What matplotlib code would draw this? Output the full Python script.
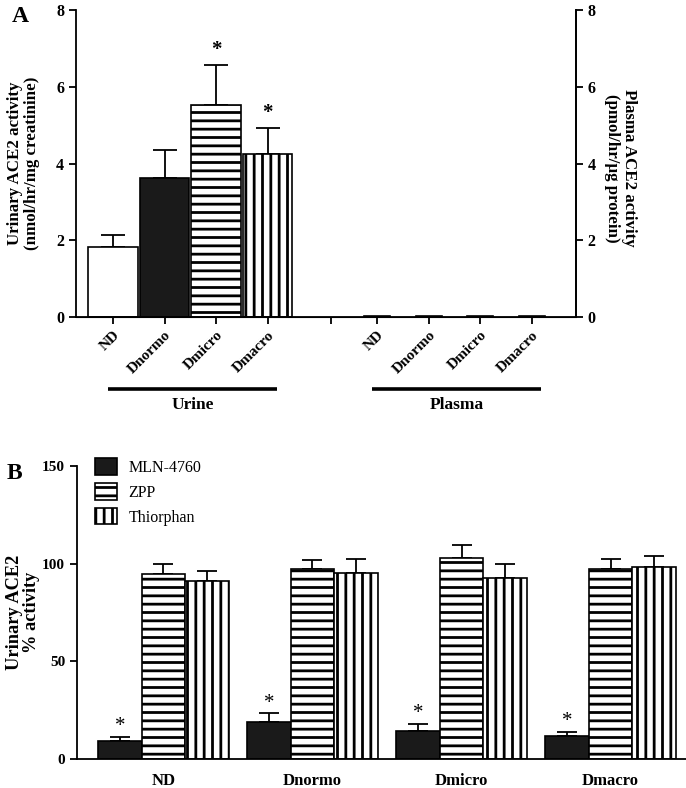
import numpy as np
import matplotlib
matplotlib.use("Agg")
import matplotlib.pyplot as plt

plt.rcParams['font.family'] = ['Liberation Serif', 'DejaVu Serif']
plt.rcParams['hatch.linewidth'] = 2.0
plt.rcParams['hatch.color'] = 'black'

# panel A data
groups = ["ND", "Dnormo", "Dmicro", "Dmacro"]
urine_mean = [1.82, 3.62, 5.52, 4.25]
urine_sem = [0.31, 0.72, 1.05, 0.68]
plasma_mean = [0.03, 0.03, 0.02, 0.03]
urine_star = [False, False, True, True]

# panel B data
inhibitors = ["MLN-4760", "ZPP", "Thiorphan"]
mln_mean = [9.3, 18.7, 14.3, 11.9]
mln_sem = [2.1, 4.6, 3.6, 1.7]
zpp_mean = [94.5, 97.3, 102.7, 97.1]
zpp_sem = [5.3, 4.6, 7.0, 5.3]
thio_mean = [91.3, 95.2, 92.9, 98.5]
thio_sem = [4.7, 7.2, 6.9, 5.2]

styles = [dict(color='white', hatch=None),
          dict(color='#1a1a1a', hatch=None),
          dict(color='white', hatch='--'),
          dict(color='white', hatch='||')]

fig = plt.figure(figsize=(6.86, 7.88), dpi=100)

# ---------- panel A ----------
axA = fig.add_axes([0.1108, 0.5977, 0.7289, 0.3896])
urine_x = np.arange(4)
gap_x = 4.23
plasma_x = 5.13 + np.arange(4)

axA.errorbar(urine_x, urine_mean, yerr=[np.zeros(4), urine_sem], fmt='none',
             ecolor='black', elinewidth=1.3, capsize=8.5, capthick=1.3, zorder=1)
for i in range(4):
    axA.bar(urine_x[i], urine_mean[i], width=0.96, facecolor=styles[i]['color'],
            hatch=styles[i]['hatch'], edgecolor='black', linewidth=1.2, zorder=2)
    axA.bar(plasma_x[i], plasma_mean[i], width=0.5, facecolor=styles[i]['color'],
            hatch=styles[i]['hatch'], edgecolor='black', linewidth=1.2, zorder=2)
    if urine_star[i]:
        axA.text(urine_x[i], urine_mean[i] + urine_sem[i] + 0.12, "*", ha='center',
                 va='bottom', fontsize=15, fontweight='bold')

axA.set_xlim(-0.72, 8.99)
axA.set_ylim(0, 8)
axA.set_yticks([0, 2, 4, 6, 8])
axA.set_xticks(list(urine_x) + [gap_x] + list(plasma_x))
axA.set_xticklabels(groups + [""] + groups, rotation=45, ha='right',
                    rotation_mode='anchor', fontweight='bold', fontsize=11)
axA.spines['top'].set_visible(False)
for s in ['left', 'bottom', 'right']:
    axA.spines[s].set_linewidth(1.3)
axA.tick_params(axis='both', width=1.3, length=5)
axA.tick_params(axis='y', labelsize=11.5)
for lab in axA.get_yticklabels():
    lab.set_fontweight('bold')
axA.set_ylabel("Urinary ACE2 activity\n(nmol/hr/mg creatinine)", fontsize=12.2,
               fontweight='bold', linespacing=1.1)
axA.yaxis.set_label_coords(-0.072, 0.5)

axA2 = axA.twinx()
axA2.set_ylim(0, 8)
axA2.set_yticks([0, 2, 4, 6, 8])
axA2.spines['top'].set_visible(False)
axA2.spines['left'].set_visible(False)
axA2.spines['right'].set_linewidth(1.3)
axA2.tick_params(axis='y', width=1.3, length=5, labelsize=11.5)
for lab in axA2.get_yticklabels():
    lab.set_fontweight('bold')
axA2.set_ylabel("Plasma ACE2 activity\n(pmol/hr/\u00b5g protein)", fontsize=12.2,
                fontweight='bold', rotation=270, linespacing=1.1)
axA2.yaxis.set_label_coords(1.122, 0.485)

tr = axA.get_xaxis_transform()
for xs, name in [(urine_x, "Urine"), (plasma_x, "Plasma")]:
    x0, x1 = xs[0] - 0.1, xs[-1] + 0.18
    axA.plot([x0, x1], [-0.235, -0.235], color='black', lw=2.6, transform=tr,
             clip_on=False, solid_capstyle='butt')
    axA.text((x0 + x1) / 2, -0.262, name, transform=tr, ha='center', va='top',
             fontsize=12.5, fontweight='bold')

fig.text(20 / 686, 1 - 17 / 788, "A", fontsize=17, fontweight='bold', ha='center', va='center')

# ---------- panel B ----------
axB = fig.add_axes([0.1122, 0.0368, 0.888, 0.3718])
gx = np.arange(4)
w = 0.292
series = [(mln_mean, mln_sem, styles[1]), (zpp_mean, zpp_sem, styles[2]),
          (thio_mean, thio_sem, styles[3])]
for k, (m, e, st) in enumerate(series):
    xs = gx + (k - 1) * w
    axB.errorbar(xs, m, yerr=[np.zeros(4), e], fmt='none', ecolor='black',
                 elinewidth=1.3, capsize=7.5, capthick=1.3, zorder=1)
    axB.bar(xs, m, width=w, facecolor=st['color'], hatch=st['hatch'],
            edgecolor='black', linewidth=1.2, zorder=2, label=inhibitors[k])
    if k == 0:
        for xi, mi, ei in zip(xs, m, e):
            axB.text(xi, mi + ei + 0.5, "*", ha='center', va='bottom', fontsize=15)

axB.set_xlim(-0.58, 3.507)
axB.set_ylim(0, 150)
axB.set_yticks([0, 50, 100, 150])
axB.set_xticks(gx)
axB.set_xticklabels(groups, fontweight='bold', fontsize=12)
axB.tick_params(axis='x', length=0, pad=10)
axB.tick_params(axis='y', width=1.3, length=5, labelsize=11)
for lab in axB.get_yticklabels():
    lab.set_fontweight('bold')
axB.spines['top'].set_visible(False)
axB.spines['right'].set_visible(False)
axB.spines['left'].set_linewidth(1.3)
axB.spines['bottom'].set_linewidth(1.3)
axB.set_ylabel("Urinary ACE2\n% activity", fontsize=13.2, fontweight='bold', linespacing=1.0)
axB.yaxis.set_label_coords(-0.061, 0.5)
axB.legend(loc='upper left', bbox_to_anchor=(0.006, 1.075), frameon=False, fontsize=11.5,
           handlelength=1.4, handleheight=1.2, handletextpad=0.7, labelspacing=0.45)

fig.text(14 / 686, 1 - 473 / 788, "B", fontsize=17, fontweight='bold', ha='center', va='center')

fig.savefig("out.png", dpi=100)
